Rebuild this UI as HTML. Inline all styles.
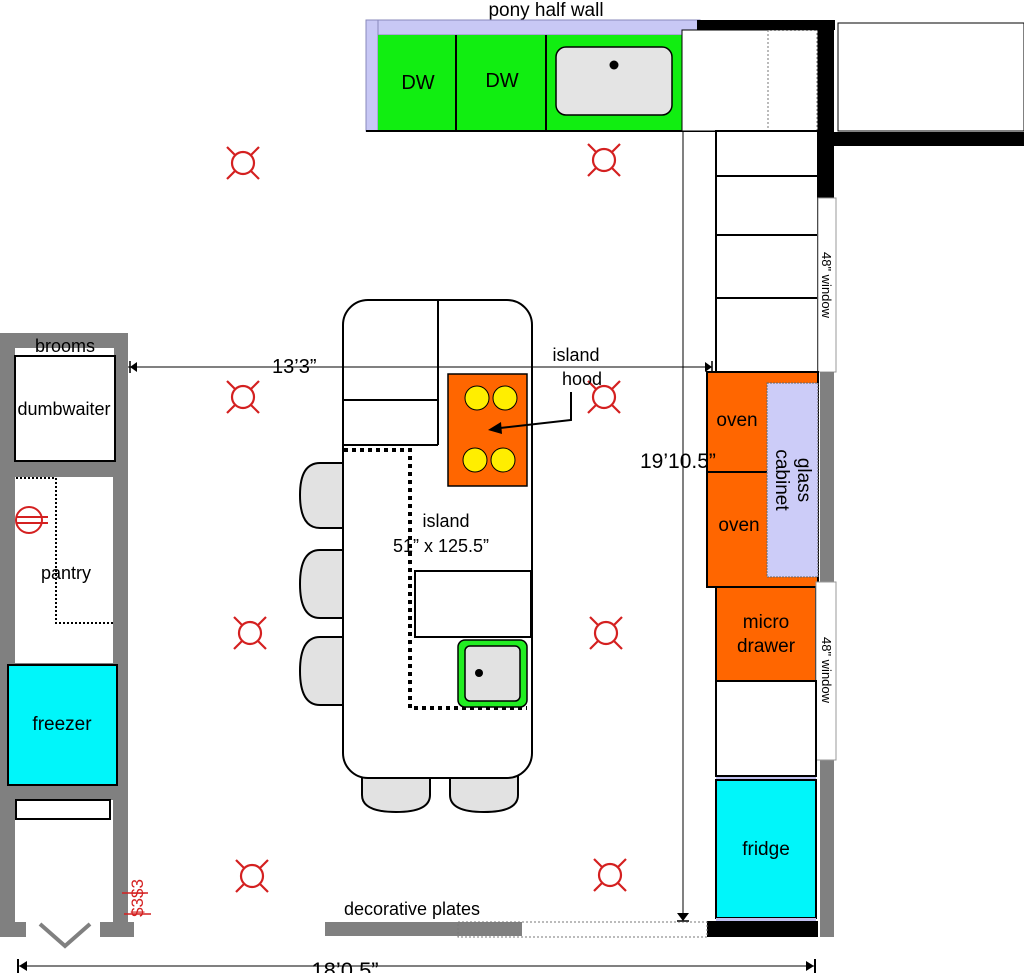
<!DOCTYPE html>
<html><head><meta charset="utf-8"><style>
html,body{margin:0;padding:0;background:#fff;}
svg{display:block;font-family:"Liberation Sans",Arial,sans-serif;}
</style></head><body>
<svg width="1024" height="973" viewBox="0 0 1024 973" xmlns="http://www.w3.org/2000/svg">
<defs>
<g id="lt" stroke="#d42020" stroke-width="2.2" fill="none">
<circle r="11"/>
<line x1="-8" y1="-8" x2="-16" y2="-16"/><line x1="8" y1="-8" x2="16" y2="-16"/>
<line x1="-8" y1="8" x2="-16" y2="16"/><line x1="8" y1="8" x2="16" y2="16"/>
</g>
</defs>
<!-- top counter -->
<text x="546" y="16" font-size="19" text-anchor="middle">pony half wall</text>
<rect x="366" y="20" width="334" height="15" fill="#c8c8f5" stroke="#8888bb" stroke-width="1"/>
<rect x="366" y="20" width="12" height="111" fill="#c8c8f5" stroke="#8888bb" stroke-width="1"/>
<rect x="378" y="35" width="304" height="96" fill="#11ee11"/>
<line x1="456" y1="35" x2="456" y2="131" stroke="#000" stroke-width="2"/>
<line x1="546" y1="35" x2="546" y2="131" stroke="#000" stroke-width="2"/>
<line x1="366" y1="131" x2="818" y2="131" stroke="#000" stroke-width="2"/>
<rect x="556" y="47" width="116" height="68" rx="10" fill="#e4e4e4" stroke="#000" stroke-width="1.5"/>
<circle cx="614" cy="65" r="4.5" fill="#000"/>
<text x="418" y="89" font-size="20" text-anchor="middle">DW</text>
<text x="502" y="87" font-size="20" text-anchor="middle">DW</text>
<rect x="682" y="30" width="136" height="101" fill="#fff" stroke="#000" stroke-width="1"/>
<rect x="768" y="30" width="49" height="160" fill="none" stroke="#777" stroke-width="1" stroke-dasharray="2,2"/>
<rect x="838" y="23" width="186" height="108" fill="#fff" stroke="#000" stroke-width="1"/>
<rect x="697" y="20" width="138" height="10" fill="#000"/>
<rect x="818" y="20" width="16" height="180" fill="#000"/>
<rect x="818" y="132" width="206" height="14" fill="#000"/>
<!-- right column upper cabinets -->
<rect x="716" y="131" width="102" height="241" fill="#fff" stroke="#000" stroke-width="2"/>
<line x1="716" y1="176" x2="818" y2="176" stroke="#000" stroke-width="2"/>
<line x1="716" y1="235" x2="818" y2="235" stroke="#000" stroke-width="2"/>
<line x1="716" y1="298" x2="818" y2="298" stroke="#000" stroke-width="2"/>
<rect x="818" y="198" width="18" height="174" fill="#fff" stroke="#999" stroke-width="1"/>
<text transform="translate(822,285) rotate(90)" font-size="13" text-anchor="middle">48" window</text>
<!-- grey wall right -->
<rect x="820" y="372" width="14" height="565" fill="#808080"/>
<!-- ovens -->
<rect x="707" y="372" width="111" height="215" fill="#ff6600" stroke="#000" stroke-width="2"/>
<line x1="707" y1="472" x2="767" y2="472" stroke="#000" stroke-width="2"/>
<rect x="767" y="383" width="51" height="194" fill="#ccccf8" stroke="#666" stroke-width="1" stroke-dasharray="2,1"/>
<text x="737" y="426" font-size="19" text-anchor="middle">oven</text>
<text x="739" y="531" font-size="19" text-anchor="middle">oven</text>
<text transform="translate(792,480) rotate(90)" font-size="19" text-anchor="middle"><tspan x="0" y="-6">glass</tspan><tspan x="0" y="16">cabinet</tspan></text>
<rect x="716" y="587" width="100" height="94" fill="#ff6600" stroke="#000" stroke-width="2"/>
<text x="766" y="628" font-size="19" text-anchor="middle">micro</text>
<text x="766" y="652" font-size="19" text-anchor="middle">drawer</text>
<rect x="816" y="582" width="20" height="178" fill="#fff" stroke="#999" stroke-width="1"/>
<text transform="translate(822,670) rotate(90)" font-size="13" text-anchor="middle">48" window</text>
<rect x="716" y="681" width="100" height="95" fill="#fff" stroke="#000" stroke-width="2"/>
<rect x="716" y="777" width="100" height="3" fill="#c0c0f0"/>
<rect x="716" y="780" width="100" height="138" fill="#00f6fa" stroke="#000" stroke-width="2"/>
<rect x="716" y="918" width="100" height="3" fill="#c0c0f0"/>
<text x="766" y="855" font-size="19" text-anchor="middle">fridge</text>
<rect x="707" y="921" width="111" height="16" fill="#000"/>
<!-- vertical dimension -->
<line x1="683" y1="131" x2="683" y2="918" stroke="#000" stroke-width="1"/>
<polygon points="677,913 689,913 683,921" fill="#000"/>
<line x1="677" y1="921" x2="689" y2="921" stroke="#000" stroke-width="1.5"/>
<text x="640" y="468" font-size="21">19’10.5”</text>
<!-- left pantry -->
<rect x="0" y="333" width="128" height="589" fill="#808080"/>
<rect x="15" y="348" width="99" height="8" fill="#fff"/>
<text x="65" y="352" font-size="18" text-anchor="middle">brooms</text>
<rect x="15" y="356" width="100" height="105" fill="#fff" stroke="#000" stroke-width="2"/>
<text x="64" y="415" font-size="18" text-anchor="middle">dumbwaiter</text>
<rect x="15" y="477" width="98" height="186" fill="#fff"/>
<polyline points="16,478 56,478 56,623 113,623" fill="none" stroke="#000" stroke-width="2" stroke-dasharray="2,2"/>
<text x="66" y="579" font-size="18" text-anchor="middle">pantry</text>
<g stroke="#d42020" stroke-width="2" fill="none"><circle cx="29" cy="520" r="13"/><line x1="16" y1="517" x2="48" y2="517"/><line x1="16" y1="523" x2="48" y2="523"/></g>
<rect x="8" y="665" width="109" height="120" fill="#00f6fa" stroke="#000" stroke-width="2"/>
<text x="62" y="730" font-size="19" text-anchor="middle">freezer</text>
<rect x="15" y="800" width="98" height="137" fill="#fff"/>
<rect x="16" y="800" width="94" height="19" fill="#fff" stroke="#000" stroke-width="2"/>
<rect x="0" y="922" width="26" height="15" fill="#808080"/>
<rect x="100" y="922" width="34" height="15" fill="#808080"/>
<polyline points="40,924 65,946 90,924" fill="none" stroke="#808080" stroke-width="4"/>
<text transform="translate(143,898) rotate(-90)" font-size="17" fill="#d42020" text-anchor="middle">$3$3</text>
<line x1="122" y1="893" x2="148" y2="893" stroke="#d42020" stroke-width="1.5"/>
<line x1="124" y1="914" x2="151" y2="914" stroke="#d42020" stroke-width="1.5"/>
<!-- lights -->
<use href="#lt" x="243" y="163"/><use href="#lt" x="604" y="160"/>
<use href="#lt" x="243" y="397"/><use href="#lt" x="604" y="397"/>
<use href="#lt" x="250" y="633"/><use href="#lt" x="606" y="633"/>
<use href="#lt" x="252" y="876"/><use href="#lt" x="610" y="875"/>
<!-- island -->
<g fill="#e2e2e2" stroke="#000" stroke-width="2">
<path d="M343,463 L320,463 Q300,463 300,495 Q300,528 320,528 L343,528 Z"/>
<path d="M343,550 L320,550 Q300,550 300,584 Q300,618 320,618 L343,618 Z"/>
<path d="M343,637 L320,637 Q300,637 300,671 Q300,705 320,705 L343,705 Z"/>
<path d="M362,775 L362,795 Q362,812 396,812 Q430,812 430,795 L430,775 Z"/>
<path d="M450,775 L450,795 Q450,812 484,812 Q518,812 518,795 L518,775 Z"/>
</g>
<rect x="343" y="300" width="189" height="478" rx="25" fill="#fff" stroke="#000" stroke-width="2"/>
<line x1="438" y1="300" x2="438" y2="445" stroke="#000" stroke-width="2"/>
<line x1="343" y1="400" x2="438" y2="400" stroke="#000" stroke-width="2"/>
<line x1="343" y1="445" x2="438" y2="445" stroke="#000" stroke-width="2"/>
<rect x="448" y="374" width="79" height="112" fill="#ff6600" stroke="#000" stroke-width="1.5"/>
<g fill="#ffee00" stroke="#000" stroke-width="1"><circle cx="477" cy="398" r="12"/><circle cx="505" cy="398" r="12"/><circle cx="475" cy="460" r="12"/><circle cx="503" cy="460" r="12"/></g>
<polyline points="344,450 410,450 410,708 527,708" fill="none" stroke="#000" stroke-width="4" stroke-dasharray="4,4"/>
<rect x="415" y="571" width="116" height="66" fill="#fff" stroke="#000" stroke-width="2"/>
<rect x="458" y="640" width="69" height="67" rx="7" fill="#22ee22" stroke="#000" stroke-width="1.5"/>
<rect x="465" y="646" width="55" height="55" rx="5" fill="#e2e2e2" stroke="#000" stroke-width="1.5"/>
<circle cx="479" cy="673" r="4" fill="#000"/>
<text x="446" y="527" font-size="18" text-anchor="middle">island</text>
<text x="441" y="552" font-size="18" text-anchor="middle">51” x 125.5”</text>
<!-- horizontal dimension (over island) -->
<line x1="128" y1="367" x2="712" y2="367" stroke="#000" stroke-width="1"/>
<polygon points="130,367 137,362 137,372" fill="#000"/>
<line x1="130" y1="361" x2="130" y2="373" stroke="#000" stroke-width="1.5"/>
<polygon points="712,367 705,362 705,372" fill="#000"/>
<line x1="712" y1="361" x2="712" y2="373" stroke="#000" stroke-width="1.5"/>
<text x="272" y="373" font-size="20">13’3”</text>
<text x="576" y="361" font-size="18" text-anchor="middle">island</text>
<text x="582" y="385" font-size="18" text-anchor="middle">hood</text>
<polyline points="571,392 571,420 500,428" fill="none" stroke="#000" stroke-width="2"/>
<polygon points="488,430 501,422 502,434" fill="#000"/>
<!-- decorative plates -->
<text x="412" y="915" font-size="18" text-anchor="middle">decorative plates</text>
<rect x="325" y="922" width="197" height="14" fill="#808080"/>
<rect x="458" y="922" width="249" height="15" fill="none" stroke="#777" stroke-width="1" stroke-dasharray="2,2"/>
<!-- bottom dimension -->
<line x1="18" y1="966" x2="815" y2="966" stroke="#000" stroke-width="1"/>
<line x1="18" y1="959" x2="18" y2="973" stroke="#000" stroke-width="2"/>
<polygon points="19,966 27,961 27,971" fill="#000"/>
<line x1="815" y1="959" x2="815" y2="973" stroke="#000" stroke-width="2"/>
<polygon points="814,966 806,961 806,971" fill="#000"/>
<text x="345" y="978" font-size="22" text-anchor="middle">18’0.5”</text>
</svg>
</body></html>
